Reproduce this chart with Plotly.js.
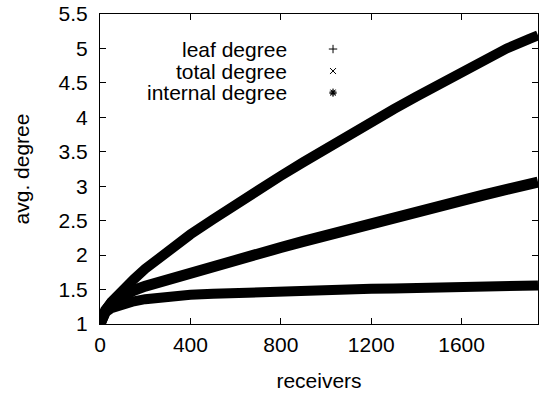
<!DOCTYPE html>
<html>
<head>
<meta charset="utf-8">
<script src="https://cdn.plot.ly/plotly-3.0.1.min.js"></script>
<style>html,body{margin:0;padding:0;background:#fff;}#chart{width:539px;height:396px;}</style>
</head>
<body>
<div id="chart"></div>
<script>
var receivers = [1, 10, 25, 50, 100, 150, 200, 250, 300, 350, 400, 500, 600, 700, 800, 900, 1000, 1100, 1200, 1300, 1400, 1500, 1600, 1700, 1800, 1900, 1938];
var leafDegree = [1.0, 1.1, 1.2, 1.32, 1.5, 1.65, 1.8, 1.93, 2.06, 2.18, 2.3, 2.52, 2.74, 2.95, 3.15, 3.35, 3.55, 3.74, 3.93, 4.12, 4.3, 4.48, 4.66, 4.83, 5.0, 5.14, 5.19];
var totalDegree = [1.0, 1.1, 1.2, 1.3, 1.41, 1.49, 1.55, 1.6, 1.645, 1.685, 1.725, 1.815, 1.91, 2.01, 2.11, 2.2, 2.29, 2.375, 2.46, 2.545, 2.63, 2.71, 2.79, 2.875, 2.955, 3.03, 3.06];
var internalDegree = [1.0, 1.09, 1.17, 1.23, 1.29, 1.33, 1.36, 1.38, 1.4, 1.413, 1.425, 1.44, 1.455, 1.465, 1.475, 1.485, 1.495, 1.5, 1.51, 1.515, 1.52, 1.53, 1.535, 1.54, 1.55, 1.555, 1.56];
// isolated outlier point
var outlierX = [1031];
var outlierY = [4.35];

var seriesNames = ['leaf degree', 'total degree', 'internal degree'];
var seriesSymbols = ['cross-thin-open', 'x-thin-open', 'asterisk-open'];
var xTicks = [0, 400, 800, 1200, 1600];
var yTicks = [1, 1.5, 2, 2.5, 3, 3.5, 4, 4.5, 5, 5.5];

var FONT = 'Liberation Sans, Arial, sans-serif';
var FS = 21;

var bands = [leafDegree, totalDegree, internalDegree];
var widths = [10, 11, 10];
var traces = bands.map(function (ys, i) {
  return {
    x: receivers, y: ys, type: 'scatter', mode: 'lines',
    line: {color: '#000', width: widths[i]},
    name: seriesNames[i], showlegend: false, hoverinfo: 'skip'
  };
});
traces.push({
  x: outlierX, y: outlierY, type: 'scatter', mode: 'markers',
  marker: {symbol: 'asterisk-open', size: 6, color: '#000', line: {color: '#000', width: 1}},
  showlegend: false, hoverinfo: 'skip'
});
// legend symbols on overlay axes
var legX = 0.532, legY = [0.887, 0.816, 0.748];
seriesNames.forEach(function (n, i) {
  traces.push({
    x: [legX], y: [legY[i]], xaxis: 'x2', yaxis: 'y2', type: 'scatter', mode: 'markers',
    marker: {symbol: seriesSymbols[i], size: 6, color: '#000', line: {color: '#000', width: 1}},
    showlegend: false, hoverinfo: 'skip'
  });
});

var annotations = seriesNames.map(function (n, i) {
  return {
    text: n, xref: 'paper', yref: 'paper', x: 0.4315, y: legY[i],
    xanchor: 'right', yanchor: 'middle', showarrow: false,
    font: {family: FONT, size: FS, color: '#000'}
  };
});

var layout = {
  width: 539, height: 396,
  margin: {l: 100, r: 1, t: 14, b: 72},
  paper_bgcolor: '#fff', plot_bgcolor: '#fff',
  showlegend: false,
  font: {family: FONT, size: FS, color: '#000'},
  xaxis: {
    range: [0, 1938], tickvals: xTicks, ticktext: xTicks.map(String),
    ticks: 'inside', ticklen: 6, tickwidth: 1, tickcolor: '#000',
    showline: true, linecolor: '#000', linewidth: 1, mirror: 'allticks',
    showgrid: false, zeroline: false, ticklabelstandoff: 2,
    title: {text: 'receivers', font: {family: FONT, size: FS}, standoff: 18},
    tickfont: {family: FONT, size: FS}
  },
  yaxis: {
    range: [1, 5.5], tickvals: yTicks, ticktext: yTicks.map(String),
    ticks: 'inside', ticklen: 6, tickwidth: 1, tickcolor: '#000',
    showline: true, linecolor: '#000', linewidth: 1, mirror: 'allticks',
    showgrid: false, zeroline: false, ticklabelstandoff: 7,
    title: {text: 'avg. degree', font: {family: FONT, size: FS}, standoff: 23},
    tickfont: {family: FONT, size: FS}
  },
  xaxis2: {overlaying: 'x', range: [0, 1], visible: false, fixedrange: true},
  yaxis2: {overlaying: 'y', range: [0, 1], visible: false, fixedrange: true},
  annotations: annotations
};

Plotly.newPlot('chart', traces, layout, {staticPlot: true, displayModeBar: false});
</script>
</body>
</html>
